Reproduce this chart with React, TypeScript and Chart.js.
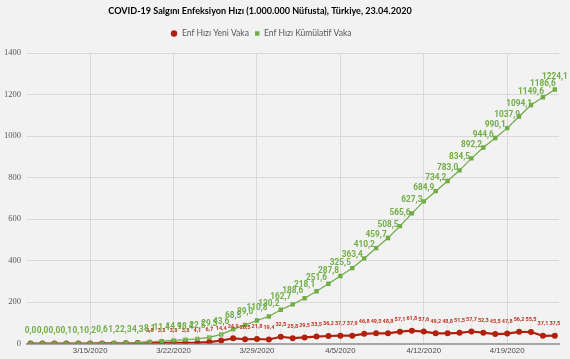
import React, { useEffect, useRef } from 'react';
import { Chart, registerables } from 'chart.js';

Chart.register(...registerables);

const chartTitle = 'COVID-19 Salgını Enfeksiyon Hızı (1.000.000 Nüfusta), Türkiye, 23.04.2020';
const seriesNames = ['Enf Hızı Yeni Vaka', 'Enf Hızı Kümülatif Vaka'];

const dates = [
  '3/10/2020', '3/11/2020', '3/12/2020', '3/13/2020', '3/14/2020', '3/15/2020', '3/16/2020',
  '3/17/2020', '3/18/2020', '3/19/2020', '3/20/2020', '3/21/2020', '3/22/2020', '3/23/2020',
  '3/24/2020', '3/25/2020', '3/26/2020', '3/27/2020', '3/28/2020', '3/29/2020', '3/30/2020',
  '3/31/2020', '4/1/2020', '4/2/2020', '4/3/2020', '4/4/2020', '4/5/2020', '4/6/2020',
  '4/7/2020', '4/8/2020', '4/9/2020', '4/10/2020', '4/11/2020', '4/12/2020', '4/13/2020',
  '4/14/2020', '4/15/2020', '4/16/2020', '4/17/2020', '4/18/2020', '4/19/2020', '4/20/2020',
  '4/21/2020', '4/22/2020', '4/23/2020',
];

const tickDates = ['3/15/2020', '3/22/2020', '3/29/2020', '4/5/2020', '4/12/2020', '4/19/2020'];
const yTicks = [0, 200, 400, 600, 800, 1000, 1200, 1400];

const yeniVaka = [
  0.0, 0.0, 0.0, 0.1, 0.0, 0.1, 0.4, 0.6, 1.1, 2.0, 3.8, 3.3, 3.5, 3.5, 4.1, 6.7,
  14.4, 24.9, 20.5, 21.8, 19.4, 32.5, 25.8, 29.5, 33.5, 36.2, 37.7, 37.9, 46.8, 49.5,
  48.8, 57.1, 61.8, 57.6, 49.2, 48.8, 51.5, 57.7, 52.3, 45.5, 47.8, 56.2, 55.5, 37.1, 37.5,
];

const kumulatifVaka = [
  0.0, 0.0, 0.0, 0.1, 0.1, 0.2, 0.6, 1.2, 2.3, 4.3, 8.1, 11.4, 14.9, 18.4, 22.5, 29.3,
  43.6, 68.5, 89.0, 110.8, 130.2, 162.7, 188.6, 218.1, 251.6, 287.8, 325.5, 363.4, 410.2,
  459.7, 508.5, 565.6, 627.3, 684.9, 734.2, 783.0, 834.5, 892.2, 944.6, 990.1, 1037.9,
  1094.1, 1149.6, 1186.6, 1224.1,
];

const RED = '#b0200c';
const RED_LABEL = '#c0301c';
const GREEN = '#70ad47';
const GRID = '#d9d9d9';
const TEXT = '#595959';

const fmt = (v: number) => v.toFixed(1).replace('.', ',');

const decorPlugin = {
  id: 'decor',
  beforeDraw(chart: any) {
    const { ctx, width, height } = chart;
    ctx.save();
    ctx.fillStyle = '#f2f2f2';
    ctx.fillRect(0, 0, width, height);
    ctx.restore();
  },
  afterDatasetsDraw(chart: any) {
    const { ctx } = chart;
    ctx.save();
    ctx.textAlign = 'center';
    ctx.textBaseline = 'middle';
    // red labels (the smallest ones sit hidden under the green labels)
    const redMeta = chart.getDatasetMeta(0);
    ctx.font = 'bold 5.5px Roboto';
    redMeta.data.forEach((pt: any, i: number) => {
      if (yeniVaka[i] < 3) return;
      const ly = pt.y - 12;
      ctx.strokeStyle = '#dadada';
      ctx.lineWidth = 0.6;
      ctx.beginPath();
      ctx.moveTo(pt.x, ly + 4);
      ctx.lineTo(pt.x, pt.y - 3.5);
      ctx.stroke();
      ctx.fillStyle = RED_LABEL;
      ctx.fillText(fmt(yeniVaka[i]), pt.x, ly);
    });
    // green labels
    const greenMeta = chart.getDatasetMeta(1);
    ctx.font = 'bold 8.3px Roboto';
    ctx.fillStyle = GREEN;
    greenMeta.data.forEach((pt: any, i: number) => {
      ctx.fillText(fmt(kumulatifVaka[i]), pt.x, pt.y - 13);
    });
    ctx.restore();
  },
  afterDraw(chart: any) {
    const { ctx } = chart;
    ctx.save();
    // title
    const cx = 260;
    let size = 11;
    ctx.font = `bold ${size}px Lato`;
    const w = ctx.measureText(chartTitle).width;
    if (w > 304) {
      size = (size * 304) / w;
      ctx.font = `bold ${size}px Lato`;
    }
    ctx.fillStyle = '#000000';
    ctx.textAlign = 'center';
    ctx.textBaseline = 'middle';
    ctx.fillText(chartTitle, cx, 11);
    // legend
    const ly = 33.5;
    ctx.font = '8.5px Lato';
    ctx.textAlign = 'left';
    ctx.fillStyle = RED;
    ctx.beginPath();
    ctx.arc(174, ly, 3.2, 0, Math.PI * 2);
    ctx.fill();
    ctx.fillStyle = TEXT;
    ctx.fillText(seriesNames[0], 182, ly);
    ctx.fillStyle = GREEN;
    ctx.fillRect(255, ly - 2.2, 4.4, 4.4);
    ctx.fillStyle = TEXT;
    ctx.fillText(seriesNames[1], 264, ly);
    ctx.restore();
  },
};

export default function App() {
  const ref = useRef<HTMLCanvasElement>(null);
  useEffect(() => {
    document.body.style.margin = '0';
    document.body.style.background = '#f2f2f2';
    document.body.style.overflow = 'hidden';
    const canvas = ref.current!;
    const chart = new Chart(canvas, {
      type: 'line',
      data: {
        datasets: [
          {
            label: seriesNames[0],
            data: yeniVaka.map((v, i) => ({ x: i, y: v })),
            borderColor: RED,
            backgroundColor: RED,
            borderWidth: 2.2,
            pointStyle: 'circle',
            pointRadius: 3,
            pointBorderWidth: 0,
            order: 1,
          } as any,
          {
            label: seriesNames[1],
            data: kumulatifVaka.map((v, i) => ({ x: i, y: v })),
            borderColor: GREEN,
            backgroundColor: GREEN,
            borderWidth: 1.3,
            pointStyle: 'rect',
            pointRadius: 3.1,
            pointBorderWidth: 0,
            order: 0,
          } as any,
        ],
      },
      options: {
        animation: false,
        responsive: false,
        devicePixelRatio: 1,
        layout: { padding: { top: 53, right: 11, left: 0, bottom: 0 } },
        plugins: {
          legend: { display: false },
          title: { display: false },
          tooltip: { enabled: false },
        },
        scales: {
          x: {
            type: 'linear',
            min: -0.3,
            max: 44.35,
            afterBuildTicks: (s: any) => {
              s.ticks = tickDates.map((d) => ({ value: dates.indexOf(d) }));
            },
            afterFit: (s: any) => {
              s.height = 15.5;
            },
            ticks: {
              autoSkip: false,
              maxRotation: 0,
              padding: 3,
              color: '#4a4a4a',
              font: { family: 'Liberation Sans', size: 7.8 },
              callback: (v: any) => dates[Math.round(Number(v))],
            },
            grid: { color: GRID, lineWidth: 1, drawTicks: false },
            border: { color: '#a6a6a6', width: 2 },
          },
          y: {
            min: 0,
            max: 1400,
            afterBuildTicks: (s: any) => {
              s.ticks = yTicks.map((v) => ({ value: v }));
            },
            afterFit: (s: any) => {
              s.width = 27;
            },
            ticks: {
              padding: 6,
              color: TEXT,
              font: { family: 'Liberation Serif', size: 8.5 },
              callback: (v: any) => String(v),
            },
            grid: { color: GRID, lineWidth: 1, drawTicks: false },
            border: { display: false },
          },
        },
      } as any,
      plugins: [decorPlugin],
    });
    return () => chart.destroy();
  }, []);
  return <canvas ref={ref} width={570} height={359} style={{ display: 'block', width: 570, height: 359 }} />;
}
